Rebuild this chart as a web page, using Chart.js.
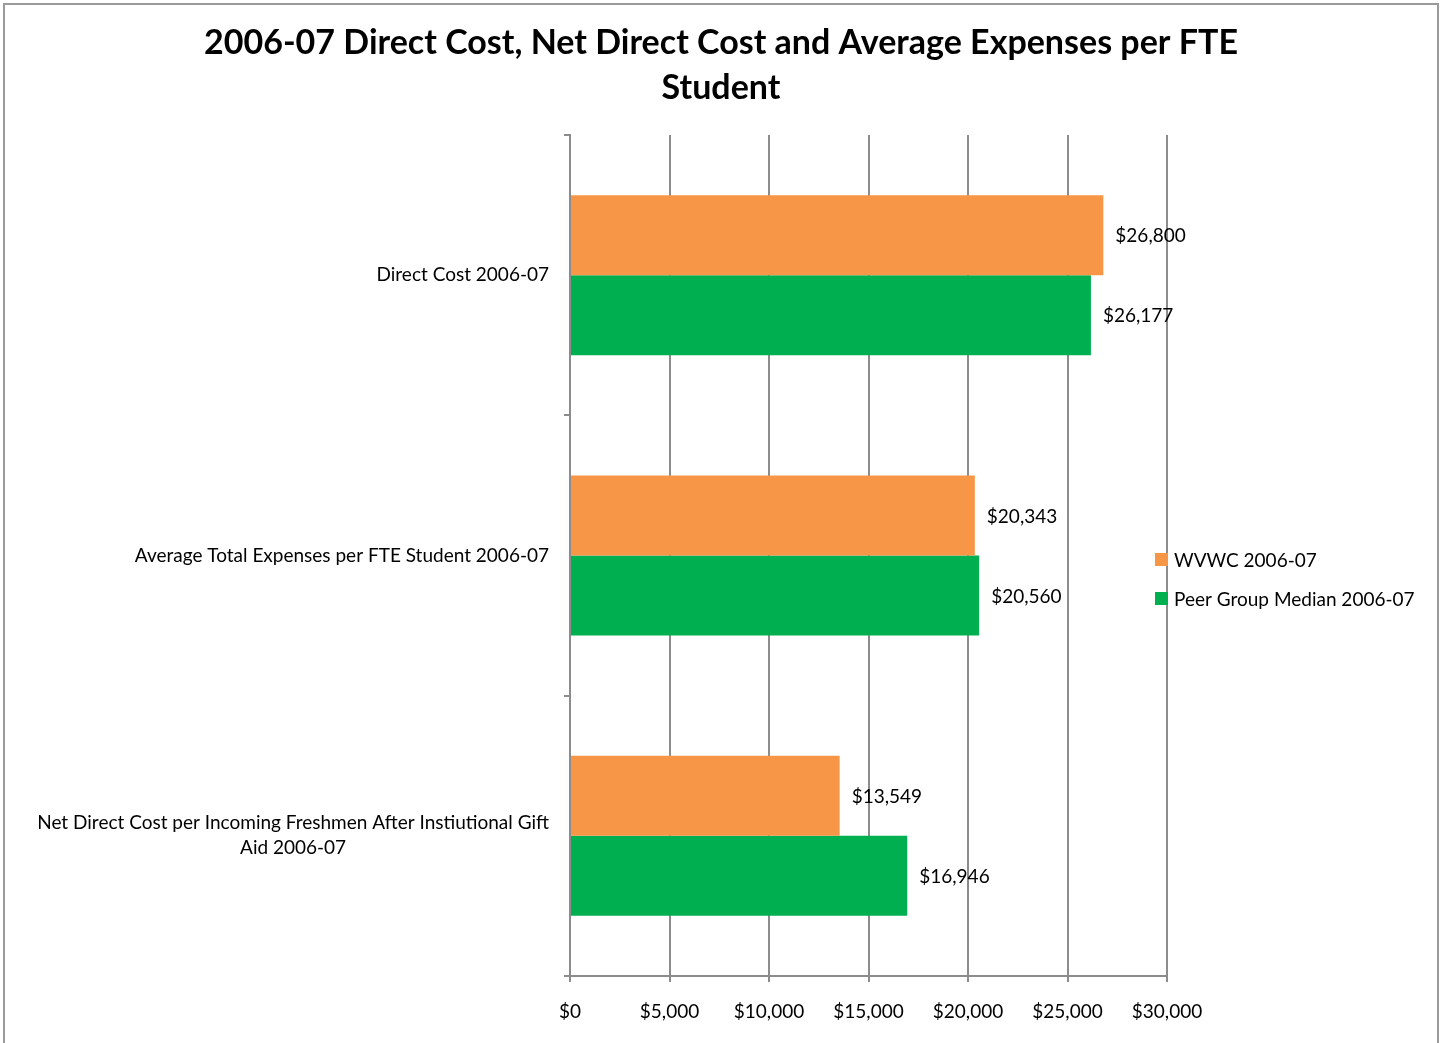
<!DOCTYPE html>
<html>
<head>
<meta charset="utf-8">
<style>
  html, body { margin: 0; padding: 0; background: #fff; }
  canvas { display: block; }
</style>
<script src="https://cdn.jsdelivr.net/npm/chart.js@4.4.0/dist/chart.umd.min.js"></script>
</head>
<body>
<canvas id="chart" width="1442" height="1043"></canvas>
<script>
// data
const categories = [
  ['Direct Cost 2006-07'],
  ['Average Total Expenses per FTE Student 2006-07'],
  ['Net Direct Cost per Incoming Freshmen After Instiutional Gift', 'Aid 2006-07']
];
const seriesNames = ['WVWC 2006-07', 'Peer Group Median 2006-07'];
const wvwcValues = [26800, 20343, 13549];
const peerValues = [26177, 20560, 16946];
const xTicks = [0, 5000, 10000, 15000, 20000, 25000, 30000];
const titleLines = ['2006-07 Direct Cost, Net Direct Cost and Average Expenses per FTE', 'Student'];

const FONT = 'Lato, "Open Sans", sans-serif';
const GRID = '#8c8c8c';

const money = v => '$' + v.toLocaleString('en-US');

// outer frame + title (centered on the whole canvas)
const framePlugin = {
  id: 'frame',
  beforeDraw(chart) {
    const c = chart.ctx;
    c.save();
    c.fillStyle = '#fff';
    c.fillRect(0, 0, chart.width, chart.height);
    c.strokeStyle = '#9a9a9a';
    c.lineWidth = 2;
    c.strokeRect(4, 4, chart.width - 8, chart.height + 10);
    c.font = 'bold 34px ' + FONT;
    c.fillStyle = '#000';
    c.textAlign = 'center';
    c.textBaseline = 'middle';
    titleLines.forEach((t, i) => c.fillText(t, 721, 43 + i * 45));
    c.restore();
  }
};

// category labels: block right aligned, lines centered inside the block
const catLabelPlugin = {
  id: 'catLabels',
  afterDraw(chart) {
    const c = chart.ctx;
    const y = chart.scales.y;
    c.save();
    c.font = '19px ' + FONT;
    c.fillStyle = '#000';
    c.textBaseline = 'middle';
    c.textAlign = 'center';
    categories.forEach((lines, i) => {
      const w = Math.max(...lines.map(l => c.measureText(l).width));
      const cx = 549 - w / 2;
      const cy = y.getPixelForValue(i);
      const lh = 25;
      lines.forEach((l, k) => {
        c.fillText(l, cx, cy + (k - (lines.length - 1) / 2) * lh);
      });
    });
    c.restore();
  }
};

// value labels at the end of each bar
const valueLabelPlugin = {
  id: 'valueLabels',
  afterDatasetsDraw(chart) {
    const c = chart.ctx;
    c.save();
    c.font = '19px ' + FONT;
    c.fillStyle = '#000';
    c.textBaseline = 'middle';
    c.textAlign = 'left';
    chart.data.datasets.forEach((ds, di) => {
      chart.getDatasetMeta(di).data.forEach((bar, i) => {
        c.fillText(money(ds.data[i]), bar.x + 12, bar.y + 1);
      });
    });
    c.restore();
  }
};

// legend on the right
const legendPlugin = {
  id: 'sideLegend',
  afterDraw(chart) {
    const c = chart.ctx;
    c.save();
    c.font = '19px ' + FONT;
    c.textBaseline = 'middle';
    c.textAlign = 'left';
    chart.data.datasets.forEach((ds, i) => {
      const cy = 560 + i * 39;
      c.fillStyle = ds.backgroundColor;
      c.fillRect(1155, cy - 7, 13, 13);
      c.fillStyle = '#000';
      c.fillText(ds.label, 1174, cy + 1);
    });
    c.restore();
  }
};

new Chart(document.getElementById('chart'), {
  type: 'bar',
  data: {
    labels: categories,
    datasets: [
      { label: seriesNames[0], data: wvwcValues, backgroundColor: '#F79646' },
      { label: seriesNames[1], data: peerValues, backgroundColor: '#00B050' }
    ]
  },
  options: {
    indexAxis: 'y',
    responsive: false,
    animation: false,
    devicePixelRatio: 1,
    layout: { padding: { left: 0, right: 275, top: 135, bottom: 0 } },
    datasets: { bar: { categoryPercentage: 0.571, barPercentage: 1.0 } },
    plugins: {
      legend: { display: false },
      tooltip: { enabled: false },
      title: { display: false }
    },
    scales: {
      x: {
        min: 0,
        max: 30000,
        afterBuildTicks: s => { s.ticks = xTicks.map(v => ({ value: v })); },
        afterFit: s => { s.height = 67; },
        ticks: {
          callback: v => money(v),
          color: '#000',
          font: { family: FONT, size: 19 },
          padding: 18,
          maxRotation: 0
        },
        grid: { color: GRID, lineWidth: 2, tickLength: 6, drawOnChartArea: true },
        border: { color: GRID, width: 2 }
      },
      y: {
        afterFit: s => { s.width = 570; },
        ticks: { display: false },
        grid: { offset: true, drawOnChartArea: false, color: GRID, lineWidth: 2, tickLength: 6 },
        border: { color: GRID, width: 2 }
      }
    }
  },
  plugins: [framePlugin, catLabelPlugin, valueLabelPlugin, legendPlugin]
});
</script>
</body>
</html>
